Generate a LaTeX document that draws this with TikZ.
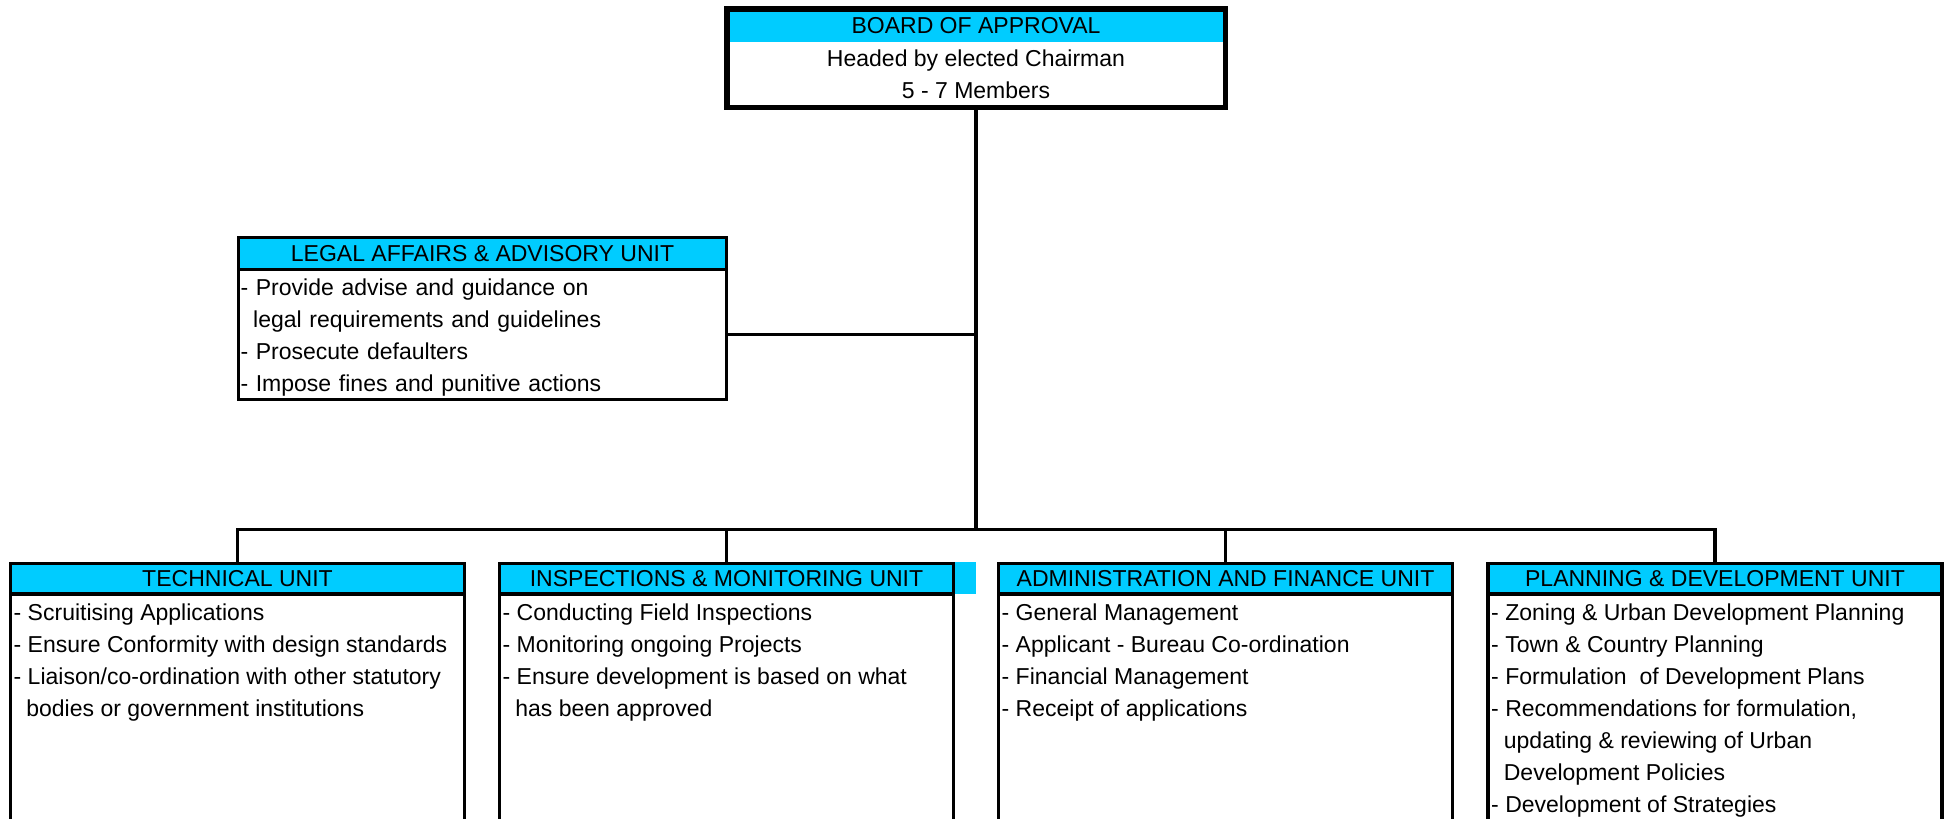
\documentclass[tikz,border=0pt]{standalone}
\usepackage{fontspec}
\setmainfont{Liberation Sans}
\usepackage{xcolor}
\usepackage{tikz}
\usetikzlibrary{positioning,fit}
\definecolor{headcyan}{RGB}{0,204,255}
\newcommand{\chartfont}{\fontsize{23.1}{32.1}\selectfont}
\newcommand{\subline}{\hspace*{0.55em}}
\tikzset{
unithead/.style={
draw,
line width=3.2bp,
fill=headcyan,
minimum width=454bp,
minimum height=30.5bp,
inner sep=0bp,
outer sep=0bp,
font=\chartfont
},
unitbody/.style={
draw,
line width=3.2bp,
align=left,
inner xsep=2bp,
inner ysep=0bp,
outer sep=0bp,
font=\chartfont
},
bodytext/.style={
align=left,
inner sep=0bp,
font=\chartfont
},
unitframe/.style={
line width=3.2bp
},
orgline/.style={
line width=3.3bp
}
}

\begin{document}
\begin{tikzpicture}[x=1bp,y=-1bp]
\useasboundingbox (0,0) rectangle (1948,819);
\clip (0,0) rectangle (1948,819);

% board
\node[fill=headcyan,minimum width=498.5bp,minimum height=33.25bp,inner sep=0bp,outer sep=0bp,font=\chartfont](boardhead) at (976,25.4){BOARD OF APPROVAL};
\node[below=0bp of boardhead,minimum width=498.5bp,minimum height=65.25bp,inner sep=0bp,outer sep=0bp,align=center,font=\chartfont](boardbody){Headed by elected Chairman\\5 - 7 Members};
\node[draw,line width=5.5bp,inner sep=0bp,fit=(boardhead)(boardbody)](board){};
\coordinate (bus) at (board.south |- 0,529.5);

% legal unit
\node[unithead,minimum width=488bp,minimum height=32bp](legal) at (482.5,253.5){LEGAL AFFAIRS \& ADVISORY UNIT};
\node[unitbody,below=0bp of legal,minimum width=488bp,minimum height=130bp,text width=484bp](legalbody){\strut- Provide advise and guidance on\\\subline legal requirements and guidelines\\- Prosecute defaulters\\- Impose fines and punitive actions};

% units
\node[unithead](tech) at (237.5,578.75){TECHNICAL UNIT};
\node[unithead](insp) at (726.5,578.75){INSPECTIONS \& MONITORING UNIT};
\node[unithead](admin) at (1225.5,578.75){ADMINISTRATION AND FINANCE UNIT};
\node[unithead](plan) at (1715,578.75){PLANNING \& DEVELOPMENT UNIT};
\fill[headcyan]([shift={(1.6bp,1.6bp)}]insp.north east) rectangle (insp.south east -| bus);

\draw[unitframe](tech.south west) rectangle ++(454,240);
\draw[unitframe](insp.south west) rectangle ++(454,240);
\draw[unitframe](admin.south west) rectangle ++(454,240);
\draw[unitframe](plan.south west) rectangle ++(454,240);

\node[bodytext,below right=3.6bp and 3bp of tech.south west](techtext){\strut- Scruitising Applications\\- Ensure Conformity with design standards\\- Liaison/co-ordination with other statutory\\\subline bodies or government institutions};
\node[bodytext,below right=3.6bp and 3bp of insp.south west](insptext){\strut- Conducting Field Inspections\\- Monitoring ongoing Projects\\- Ensure development is based on what\\\subline has been approved};
\node[bodytext,below right=3.6bp and 3bp of admin.south west](admintext){\strut- General Management\\- Applicant - Bureau Co-ordination\\- Financial Management\\- Receipt of applications};
\node[bodytext,below right=3.6bp and 3bp of plan.south west](plantext){\strut- Zoning \& Urban Development Planning\\- Town \& Country Planning\\- Formulation\ \ of Development Plans\\- Recommendations for formulation,\\\subline updating \& reviewing of Urban\\\subline Development Policies\\- Development of Strategies};

% connectors
\draw[orgline](board.south)--(bus);
\draw[orgline](legalbody.east)--(board.south |- legalbody.east);
\draw[orgline](tech.north)|-(bus)-|(plan.north);
\draw[orgline](insp.north)--(insp.north |- bus);
\draw[orgline](admin.north)--(admin.north |- bus);
\end{tikzpicture}
\end{document}
